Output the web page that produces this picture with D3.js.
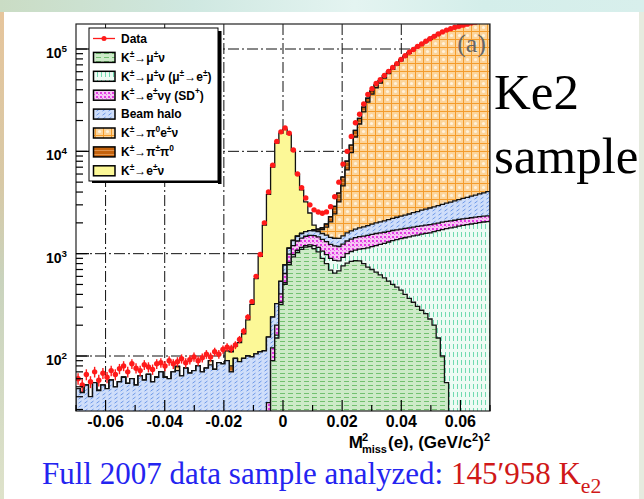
<!DOCTYPE html>
<html>
<head>
<meta charset="utf-8">
<script src="https://cdn.jsdelivr.net/npm/d3@7"></script>
<style>
  html, body { margin: 0; padding: 0; background: #fff; }
  svg { display: block; }
</style>
</head>
<body>
<svg id="chart" width="644" height="499"></svg>
<script>
// Histogram binning in M^2_miss(e), (GeV/c^2)^2
const massMin = -0.07, massMax = 0.07, nBins = 100;

// Observed candidates per bin
const dataCounts = [
  60, 52, 66, 56, 70, 58, 68, 62, 72, 66,
  75, 80, 70, 84, 76, 72, 82, 78, 74, 84,
  86, 80, 90, 84, 88, 94, 86, 92, 98, 90,
  96, 104, 98, 110, 104, 116, 122, 118, 128, 145,
  175, 240, 340, 600, 980, 2000, 4000, 7300, 12500, 15500,
  16900, 15000, 10300, 6000, 4400, 3500, 3000, 2680, 2550, 2480,
  2560, 2880, 3600, 5000, 7500, 10000, 14000, 19000, 23000, 29000,
  36000, 41000, 46000, 50000, 55000, 60500, 66000, 72000, 79000, 86000,
  93000, 99000, 106000, 112000, 119000, 126000, 133000, 140000, 147000, 153000,
  158000, 163000, 167000, 171000, 175000, 179000, 183000, 187000, 191000, 195000
];

// Beam halo background, every bin
const haloCounts = [
  48, 44, 52, 40, 55, 46, 52, 48, 58, 50,
  56, 62, 54, 60, 52, 64, 58, 66, 56, 62,
  70, 62, 60, 70, 72, 64, 76, 68, 72, 80,
  70, 76, 82, 74, 86, 84, 90, 70, 95, 88,
  95, 100, 98, 105, 110, 112, 118, 120, 125, 130,
  135, 140, 145, 150, 155, 160, 168, 175, 185, 195,
  205, 215, 225, 235, 250, 265, 280, 300, 320, 345,
  370, 395, 420, 445, 470, 500, 530, 560, 590, 620,
  650, 705, 735, 795, 825, 875, 905, 955, 995, 1055,
  1100, 1160, 1215, 1285, 1335, 1405, 1455, 1535, 1595, 1690
];

// K -> mu nu, from its first populated bin
const kmu2Start = 47;
const kmu2Counts = [
  90, 150, 320, 500, 780, 930, 1030, 1100, 1160, 1170,
  1120, 1040, 900, 800, 690, 645, 680, 760, 810, 840,
  855, 850, 800, 740, 700, 660, 620, 580, 540, 500,
  470, 440, 400, 365, 335, 305, 280, 260, 230, 200,
  150, 100, 55
];

// K -> mu nu with mu -> e decay
const kmu2DecayStart = 48;
const kmu2DecayCounts = [
  10, 15, 20, 40, 50, 50, 50, 40, 50, 80,
  110, 160, 180, 210, 215, 170, 160, 190, 210, 230,
  260, 320, 400, 470, 540, 610, 680, 760, 840, 900,
  960, 1030, 1095, 1155, 1215, 1270, 1320, 1370, 1440, 1530,
  1620, 1705, 1790, 1820, 1860, 1890, 1920, 1950, 1980, 2010,
  2040, 2060
];

// K -> e nu gamma (SD+)
const ke2gStart = 46;
const ke2gCounts = [
  35, 30, 40, 70, 120, 170, 220, 250, 270, 280,
  290, 300, 310, 320, 330, 330, 330, 325, 320, 330,
  340, 350, 360, 365, 370, 375, 375, 370, 360, 350,
  345, 340, 338, 335, 330, 328, 325, 322, 320, 318,
  315, 312, 310, 307, 305, 302, 300, 298, 296, 294,
  292, 290, 287, 285
];

// K -> pi0 e nu
const ke3Start = 24;
const ke3Counts = [
  7, 0, 0, 0, 0, 0, 0, 0, 8, 0,
  0, 0, 0, 0, 0, 0, 0, 0, 0, 0,
  0, 0, 0, 0, 0, 0, 0, 0, 0, 0,
  0, 0, 0, 30, 50, 145, 305, 600, 1035, 1790,
  3110, 5005, 8030, 12065, 16710, 22470, 28320, 34260, 39805, 44355,
  50000, 55500, 61100, 67200, 74300, 81400, 88400, 94500, 101500, 107500,
  114500, 121500, 128500, 135400, 142300, 148200, 153100, 158000, 161900, 165800,
  169700, 173600, 177400, 181300, 185200, 189000
];

// K -> pi pi0
const k2piStart = 37;
const k2piCounts = [
  10, 0, 0, 0, 0, 0, 0, 0, 0, 0,
  0, 0, 0, 0, 0, 0, 0, 0, 0, 0,
  10, 30, 60, 120, 250, 450, 700, 1000, 1400, 1800,
  2200, 2500, 2700, 2800, 2800, 2700, 2600, 2400, 2200, 2000,
  1800, 1600, 1400, 1200, 1000, 850, 700, 550, 450, 350,
  250, 180, 120, 80, 50, 30, 20, 10, 5
];

// K -> e nu signal
const ke2Start = 36;
const ke2Counts = [
  22, 30, 30, 47, 70, 125, 222, 465, 830, 1790,
  3650, 6760, 11700, 14500, 15700, 13500, 8850, 4520, 2625, 1560,
  820, 185, 25, 20, 10, 5
];

const xTickValues = [-0.06, -0.04, -0.02, 0, 0.02, 0.04, 0.06];
const xTickLabels = ["-0.06", "-0.04", "-0.02", "0", "0.02", "0.04", "0.06"];
const yDecades = [2, 3, 4, 5];

// ---------------------------------------------------------------
const svg = d3.select("#chart");
const W = 644, H = 499;
const frame = { left: 76, right: 490, top: 24, bottom: 411 };

const x = d3.scaleLinear().domain([massMin, massMax]).range([frame.left, frame.right]);
const y = d3.scaleLog().domain([1e2, 1e5]).range([356, 49]);

function expand(start, vals) {
  const a = new Array(nBins).fill(0);
  vals.forEach((v, k) => { a[start + k] = v; });
  return a;
}

const binW = (massMax - massMin) / nBins;
const edges = d3.range(nBins + 1).map(i => massMin + i * binW);

// stack components from bottom to top
const layers = [
  { key: "kmu2",  counts: expand(kmu2Start, kmu2Counts),           fill: "url(#p-kmu2)" },
  { key: "kmu2d", counts: expand(kmu2DecayStart, kmu2DecayCounts), fill: "url(#p-kmu2d)" },
  { key: "ke2g",  counts: expand(ke2gStart, ke2gCounts),           fill: "url(#p-ke2g)" },
  { key: "halo",  counts: haloCounts,                              fill: "url(#p-halo)" },
  { key: "ke3",   counts: expand(ke3Start, ke3Counts),             fill: "url(#p-ke3)" },
  { key: "k2pi",  counts: expand(k2piStart, k2piCounts),           fill: "url(#p-k2pi)" },
  { key: "ke2",   counts: expand(ke2Start, ke2Counts),             fill: "#fcf897" }
];
let running = new Array(nBins).fill(0);
layers.forEach(l => {
  running = running.map((v, i) => v + l.counts[i]);
  l.cum = running.slice();
});

// ---------------- slide background ----------------
const defs = svg.append("defs");
const gTop = defs.append("linearGradient").attr("id", "g-top");
[["0", "#cadcc4"], ["0.3", "#cfe8e1"], ["0.55", "#e4f4f1"], ["0.75", "#d4eeea"], ["1", "#d8efec"]]
  .forEach(([o, c]) => gTop.append("stop").attr("offset", o).attr("stop-color", c));
const gLeft = defs.append("linearGradient").attr("id", "g-left")
  .attr("x1", 0).attr("y1", 0).attr("x2", 0).attr("y2", 1);
[["0", "#e6c59c"], ["0.35", "#d8c9a6"], ["0.55", "#c9d3bd"], ["1", "#dee2ca"]]
  .forEach(([o, c]) => gLeft.append("stop").attr("offset", o).attr("stop-color", c));

svg.append("rect").attr("width", W).attr("height", H).attr("fill", "#ffffff");
svg.append("rect").attr("x", 0).attr("y", 0).attr("width", W).attr("height", 12).attr("fill", "url(#g-top)");
svg.append("rect").attr("x", 0).attr("y", 12).attr("width", 4).attr("height", H - 12).attr("fill", "url(#g-left)");
svg.append("rect").attr("x", 639).attr("y", 12).attr("width", 5).attr("height", H - 12).attr("fill", "#e6ebdf");

// ---------------- fill patterns ----------------
function pattern(id, w, h, bg, draw) {
  const p = defs.append("pattern").attr("id", id).attr("patternUnits", "userSpaceOnUse")
    .attr("width", w).attr("height", h);
  p.append("rect").attr("width", w).attr("height", h).attr("fill", bg);
  draw(p);
}
pattern("p-kmu2", 8, 4, "#cdeac8", p => {
  p.append("path").attr("d", "M0,1.5h5").attr("stroke", "#72c070").attr("stroke-width", 1);
});
pattern("p-kmu2d", 4, 8, "#eefbf4", p => {
  p.append("path").attr("d", "M1.5,0v5").attr("stroke", "#70dab0").attr("stroke-width", 1);
});
pattern("p-ke2g", 4, 4, "#f6c6f4", p => {
  p.append("rect").attr("x", 0).attr("y", 0).attr("width", 2).attr("height", 2).attr("fill", "#e33be3");
  p.append("rect").attr("x", 2).attr("y", 2).attr("width", 1).attr("height", 1).attr("fill", "#ea6aea");
});
pattern("p-halo", 6, 4, "#cfdefa", p => {
  p.append("path").attr("d", "M0.5,3.2L3.5,1").attr("stroke", "#6d98e8").attr("stroke-width", 1);
});
pattern("p-ke3", 8, 8, "#fcd49a", p => {
  p.append("path").attr("d", "M0,7.5h8M7.5,0v8").attr("stroke", "#f49c2c").attr("stroke-width", 1);
  p.append("circle").attr("cx", 3.5).attr("cy", 3.5).attr("r", 1.6).attr("fill", "#fff2dc");
});
pattern("p-k2pi", 4, 4, "#c4620c", p => {
  p.append("path").attr("d", "M0,2.5h4").attr("stroke", "#e6a060").attr("stroke-width", 0.8);
});

defs.append("clipPath").attr("id", "plot-clip").append("rect")
  .attr("x", frame.left).attr("y", frame.top)
  .attr("width", frame.right - frame.left).attr("height", frame.bottom - frame.top);

// ---------------- grid ----------------
const grid = svg.append("g").attr("stroke", "#111").attr("stroke-width", 1)
  .attr("stroke-dasharray", "11,3,2,3");
xTickValues.forEach(v => {
  grid.append("line").attr("x1", x(v)).attr("x2", x(v)).attr("y1", frame.top).attr("y2", frame.bottom);
});
yDecades.forEach(d => {
  grid.append("line").attr("x1", frame.left).attr("x2", frame.right)
    .attr("y1", y(Math.pow(10, d))).attr("y2", y(Math.pow(10, d)));
});

// ---------------- stacked histograms ----------------
const plot = svg.append("g").attr("clip-path", "url(#plot-clip)");
const yOf = v => v > 0 ? y(v) : frame.bottom + 20;
function stepPath(cum) {
  let d = `M${x(edges[0])},${frame.bottom + 20}`;
  for (let i = 0; i < nBins; i++) {
    d += `V${yOf(cum[i])}H${x(edges[i + 1])}`;
  }
  d += `V${frame.bottom + 20}`;
  return d;
}
for (let k = layers.length - 1; k >= 0; k--) {
  const l = layers[k];
  plot.append("path").attr("d", stepPath(l.cum) + "Z").attr("fill", l.fill).attr("stroke", "none");
  plot.append("path").attr("d", stepPath(l.cum)).attr("fill", "none")
    .attr("stroke", "#111").attr("stroke-width", 1.3);
}

// ---------------- data points ----------------
const dataG = plot.append("g").attr("stroke", "#ff1a1a").attr("stroke-width", 1.4).attr("fill", "#ff1a1a");
dataCounts.forEach((n, i) => {
  const xc = x((edges[i] + edges[i + 1]) / 2);
  const err = Math.sqrt(n);
  dataG.append("line").attr("x1", x(edges[i])).attr("x2", x(edges[i + 1]))
    .attr("y1", y(n)).attr("y2", y(n));
  dataG.append("line").attr("x1", xc).attr("x2", xc)
    .attr("y1", y(n + err)).attr("y2", y(Math.max(n - err, 1)));
  dataG.append("circle").attr("cx", xc).attr("cy", y(n)).attr("r", 2.7).attr("stroke", "none");
});

// ---------------- rich text helper ----------------
function rich(parent, px, py, segs, size, opts = {}) {
  const t = parent.append("text").attr("x", px).attr("y", py)
    .attr("font-family", opts.family || "'Liberation Sans', Arial, sans-serif")
    .attr("font-weight", opts.weight || "bold")
    .attr("font-size", size)
    .attr("fill", opts.fill || "#000")
    .attr("text-anchor", opts.anchor || "start");
  let shift = 0;
  segs.forEach(s => {
    const seg = typeof s === "string" ? { t: s } : s;
    let target = 0, fs = size;
    if (seg.sup) { target = -size * 0.42; fs = size * 0.7; }
    if (seg.sub) { target = size * 0.3; fs = size * 0.7; }
    const ts = t.append("tspan").attr("font-size", fs).attr("dy", target - shift).text(seg.t);
    if (seg.fill) ts.attr("fill", seg.fill);
    if (seg.dx) ts.attr("dx", seg.dx);
    shift = target;
  });
  return t;
}

// ---------------- legend ----------------
const leg = svg.append("g");
const legBox = { x: 89, y: 28, w: 129, h: 153 };
leg.append("rect").attr("x", legBox.x + legBox.w).attr("y", legBox.y + 3).attr("width", 3.5).attr("height", legBox.h)
  .attr("fill", "#000");
leg.append("rect").attr("x", legBox.x + 3).attr("y", legBox.y + legBox.h).attr("width", legBox.w).attr("height", 2)
  .attr("fill", "#000");
leg.append("rect").attr("x", legBox.x).attr("y", legBox.y).attr("width", legBox.w).attr("height", legBox.h)
  .attr("fill", "#fff").attr("stroke", "#000").attr("stroke-width", 1);

const legendEntries = [
  { label: ["Data"], data: true },
  { label: ["K", { t: "±", sup: 1 }, "→μ", { t: "±", sup: 1 }, "ν"], fill: "url(#p-kmu2)" },
  { label: ["K", { t: "±", sup: 1 }, "→μ", { t: "±", sup: 1 }, "ν (μ", { t: "±", sup: 1 }, "→e", { t: "±", sup: 1 }, ")"], fill: "url(#p-kmu2d)" },
  { label: ["K", { t: "±", sup: 1 }, "→e", { t: "±", sup: 1 }, "νγ (SD", { t: "+", sup: 1 }, ")"], fill: "url(#p-ke2g)" },
  { label: ["Beam halo"], fill: "url(#p-halo)" },
  { label: ["K", { t: "±", sup: 1 }, "→π", { t: "0", sup: 1 }, "e", { t: "±", sup: 1 }, "ν"], fill: "url(#p-ke3)" },
  { label: ["K", { t: "±", sup: 1 }, "→π", { t: "±", sup: 1 }, "π", { t: "0", sup: 1 }], fill: "url(#p-k2pi)" },
  { label: ["K", { t: "±", sup: 1 }, "→e", { t: "±", sup: 1 }, "ν"], fill: "#fcf897" }
];
legendEntries.forEach((e, k) => {
  const cy = 38.5 + k * 18.9;
  if (e.data) {
    leg.append("line").attr("x1", 93).attr("x2", 115).attr("y1", cy).attr("y2", cy)
      .attr("stroke", "#ff1a1a").attr("stroke-width", 1.3);
    leg.append("circle").attr("cx", 104).attr("cy", cy).attr("r", 2.5).attr("fill", "#ff1a1a");
  } else {
    leg.append("rect").attr("x", 93.5).attr("y", cy - 5).attr("width", 21.5).attr("height", 10)
      .attr("fill", e.fill).attr("stroke", "#000").attr("stroke-width", 1.5);
  }
  rich(leg, 121, cy + 4.3, e.label, 12);
});

// ---------------- frame, ticks, labels ----------------
const axes = svg.append("g");
axes.append("rect").attr("x", frame.left).attr("y", frame.top)
  .attr("width", frame.right - frame.left).attr("height", frame.bottom - frame.top)
  .attr("fill", "none").attr("stroke", "#222").attr("stroke-width", 1.2);

const tickG = axes.append("g").attr("stroke", "#000").attr("stroke-width", 1.2);
d3.range(-0.07, 0.0701, 0.01).forEach(v => {
  const major = Math.abs(Math.round(v * 100)) % 2 === 0;
  tickG.append("line").attr("x1", x(v)).attr("x2", x(v))
    .attr("y1", frame.bottom).attr("y2", frame.bottom - (major ? 11 : 6));
});
const yLo = y.invert(frame.bottom), yHi = y.invert(frame.top);
for (let d = 1; d <= 5; d++) {
  for (let m = 1; m <= 9; m++) {
    const v = m * Math.pow(10, d);
    if (v < yLo || v > yHi) continue;
    tickG.append("line").attr("x1", frame.left).attr("x2", frame.left + (m === 1 ? 13 : 7))
      .attr("y1", y(v)).attr("y2", y(v));
  }
}

xTickValues.forEach((v, k) => {
  axes.append("text").attr("x", x(v)).attr("y", 427)
    .attr("text-anchor", "middle").attr("font-family", "'Liberation Sans', Arial, sans-serif")
    .attr("font-weight", "bold").attr("font-size", 16).text(xTickLabels[k]);
});
yDecades.forEach(d => {
  rich(axes, 67, y(Math.pow(10, d)) + 9, ["10", { t: String(d), sup: 1 }], 14, { anchor: "end" });
});

// axis title: M^2_miss(e), (GeV/c^2)^2 with stacked super/subscript
(function () {
  const g = axes.append("g");
  const base = 448;
  const font = "'Liberation Sans', Arial, sans-serif";
  let cx = 0;
  function put(txt, size, dy) {
    const t = g.append("text").attr("x", cx).attr("y", base + dy).attr("font-family", font)
      .attr("font-weight", "bold").attr("font-size", size).text(txt);
    return t.node().getComputedTextLength();
  }
  cx += put("M", 17, 0) - 1;
  const wSup = put("2", 11, -7);
  const wSub = put("miss", 11, 5);
  cx += Math.max(wSup, wSub) + 1;
  cx += put("(e), (GeV/c", 17, 0);
  cx += put("2", 11, -7);
  cx += put(")", 17, 0);
  cx += put("2", 11, -7);
  g.attr("transform", `translate(${frame.right - cx},0)`);
})();

// panel tag
svg.append("text").attr("x", 486).attr("y", 52).attr("text-anchor", "end")
  .attr("font-family", "'Liberation Serif', 'Times New Roman', serif")
  .attr("font-size", 26).attr("fill", "#666").text("(a)");

// ---------------- slide text ----------------
const serif = "'Liberation Serif', 'Times New Roman', serif";
svg.append("text").attr("x", 494).attr("y", 109).attr("font-family", serif)
  .attr("font-size", 51).attr("fill", "#000").text("Ke2");
svg.append("text").attr("x", 494).attr("y", 173).attr("font-family", serif)
  .attr("font-size", 51).attr("fill", "#000").text("sample");

rich(svg, 42, 484, [
  { t: "Full 2007 data sample analyzed: ", fill: "#2424f0" },
  { t: "145′958 K", fill: "#d01818" },
  { t: "e2", sub: 1, fill: "#d01818" }
], 31, { family: serif, weight: "normal" });
</script>
</body>
</html>
